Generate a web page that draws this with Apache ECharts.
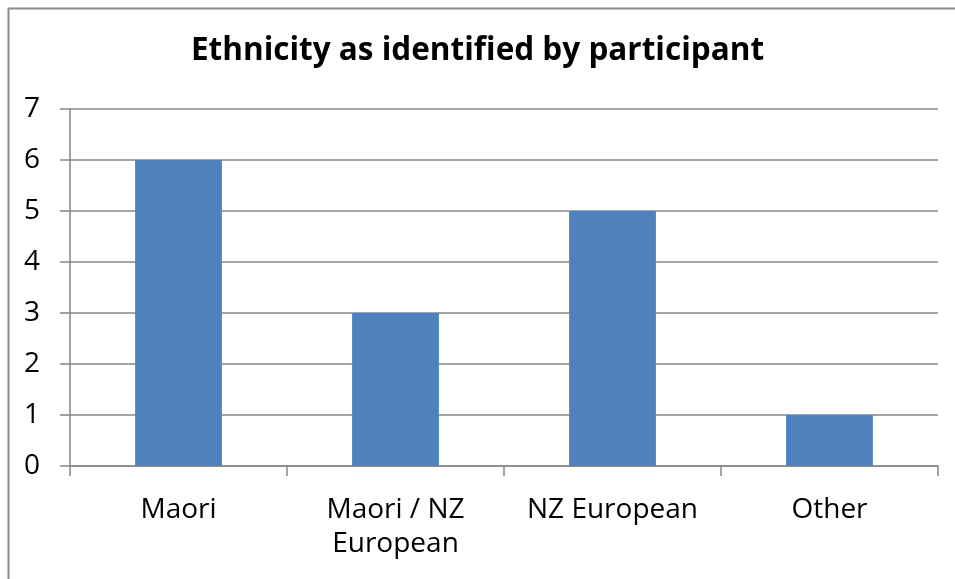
<!DOCTYPE html>
<html><head><meta charset="utf-8">
<script src="https://cdn.jsdelivr.net/npm/echarts@6/dist/echarts.min.js"></script>
<style>html,body{margin:0;padding:0;background:#fff}#c{width:955px;height:579px}</style>
</head><body><div id="c"></div>
<script>
const titleText = "Ethnicity as identified by participant";
const categories = ["Maori", "Maori / NZ\nEuropean", "NZ European", "Other"];
const counts = [6, 3, 5, 1];
const yTicks = [0, 1, 2, 3, 4, 5, 6, 7];

const chart = echarts.init(document.getElementById('c'), null, {renderer: 'canvas'});
const font = "'Open Sans', 'Liberation Sans', sans-serif";
chart.setOption({
  animation: false,
  backgroundColor: '#fff',
  graphic: [{
    type: 'rect', left: 6, top: 6, z: -1,
    shape: {width: 1000, height: 1000},
    style: {fill: 'none', stroke: '#8c8c8c', lineWidth: 2}
  }],
  title: {
    text: titleText, left: 'center', top: 30,
    textStyle: {fontFamily: font, fontWeight: 'bold', fontSize: 31.5, color: '#000'}
  },
  grid: {left: 70, right: 17, top: 109, bottom: 113, containLabel: false},
  xAxis: {
    type: 'category', data: categories,
    axisLine: {lineStyle: {color: '#868686', width: 1.5}},
    axisTick: {show: true, interval: 0, length: 10, lineStyle: {color: '#868686', width: 1.5}},
    axisLabel: {interval: 0, hideOverlap: false, fontFamily: font, fontSize: 28, color: '#000', margin: 27, lineHeight: 34}
  },
  yAxis: {
    type: 'value', min: yTicks[0], max: yTicks[yTicks.length - 1], interval: 1,
    axisLine: {show: true, lineStyle: {color: '#868686', width: 1.5}},
    axisTick: {show: true, length: 10, lineStyle: {color: '#868686', width: 1.5}},
    splitLine: {lineStyle: {color: '#868686', width: 1.5}},
    axisLabel: {fontFamily: font, fontSize: 28, color: '#000', margin: 30}
  },
  series: [{
    type: 'bar', data: counts, barCategoryGap: '60%',
    itemStyle: {color: '#4F81BD'}
  }]
});
</script></body></html>
